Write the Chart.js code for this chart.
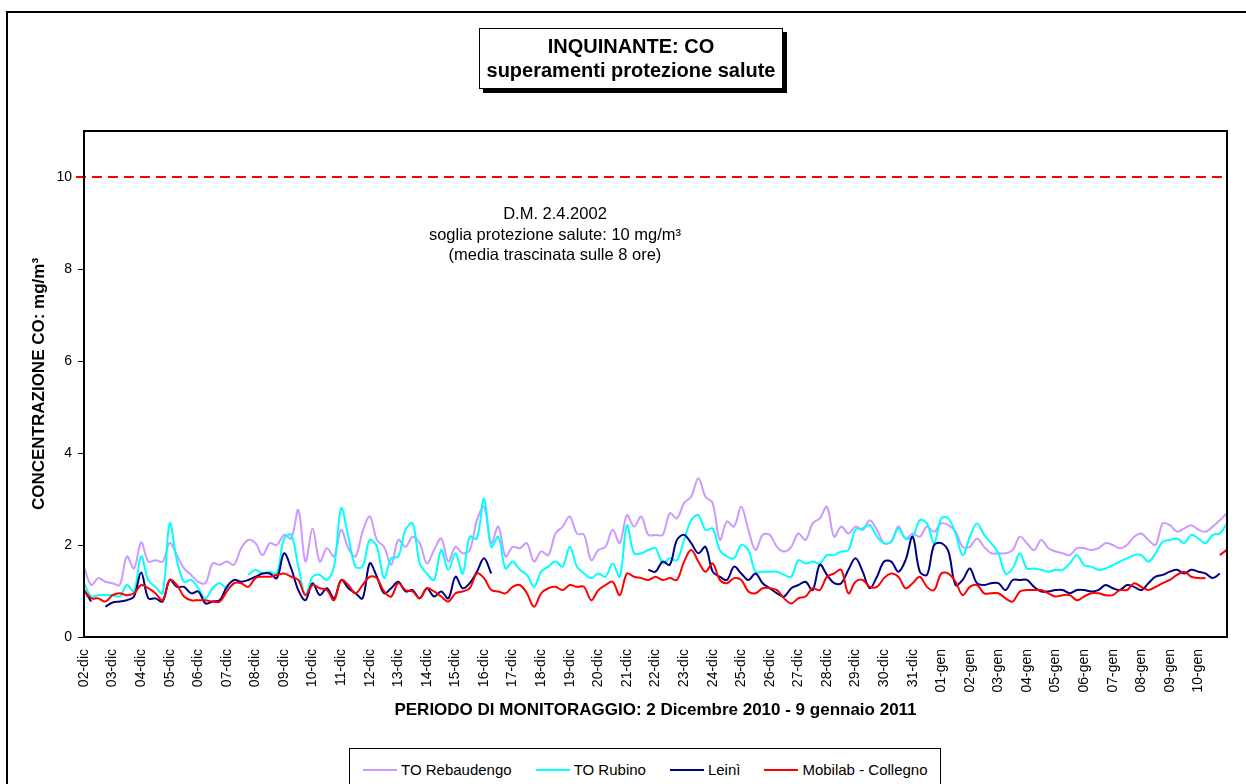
<!DOCTYPE html>
<html>
<head>
<meta charset="utf-8">
<script src="https://cdn.jsdelivr.net/npm/chart.js@4/dist/chart.umd.min.js"></script>
<style>
  html, body { margin:0; padding:0; background:#fff; }
  body { width:1246px; height:784px; overflow:hidden; position:relative; font-family:"Liberation Sans", Arial, sans-serif; }
  #frame { position:absolute; left:6px; top:11px; width:1300px; height:900px; border:2px solid #000; }
  #c { position:absolute; left:0; top:0; }
  #title { position:absolute; left:479px; top:28px; width:304px; height:61px; box-sizing:border-box; border:1px solid #000; background:#fff;
           box-shadow:4px 4px 0 #000; text-align:center; font-weight:bold; font-size:20px; line-height:24px; padding-top:5px; color:#000; }
  #note { position:absolute; left:555px; top:203px; transform:translateX(-50%); text-align:center; font-size:16.5px; line-height:20.5px; color:#000; white-space:nowrap; }
  #legend { position:absolute; left:349px; top:748px; width:592px; height:60px; box-sizing:border-box; border:1px solid #000; background:#fff;
            display:flex; align-items:flex-start; padding:12px 0 0 13px; font-size:15px; line-height:18px; color:#000; white-space:nowrap; }
  .li { display:flex; align-items:center; margin-right:24px; }
  .sw { display:inline-block; width:34px; height:2px; margin-right:4px; }
</style>
</head>
<body>
<div id="frame"></div>
<canvas id="c" width="1246" height="784"></canvas>
<div id="title">INQUINANTE: CO<br>superamenti protezione salute</div>
<div id="note">D.M. 2.4.2002<br>soglia protezione salute: 10 mg/m³<br>(media trascinata sulle 8 ore)</div>
<div id="legend"></div>
<script>
// ---- data (one value every 6 hours, 2 Dec 2010 00:00 -> 11 Jan 2011 00:00) ----
const dayLabels = ['02-dic','03-dic','04-dic','05-dic','06-dic','07-dic','08-dic','09-dic','10-dic','11-dic',
  '12-dic','13-dic','14-dic','15-dic','16-dic','17-dic','18-dic','19-dic','20-dic','21-dic',
  '22-dic','23-dic','24-dic','25-dic','26-dic','27-dic','28-dic','29-dic','30-dic','31-dic',
  '01-gen','02-gen','03-gen','04-gen','05-gen','06-gen','07-gen','08-gen','09-gen','10-gen'];
const samplesPerDay = 4;
const seriesNames = ['TO Rebaudengo','TO Rubino','Leinì','Mobilab - Collegno'];
const seriesColors = ['#CC99FF','#00FFFF','#000080','#FF0000'];
const threshold = 10;
const yTicks = [0,2,4,6,8,10];

const toRebaudengo = [
  1.53,1.13,1.28,1.2,1.17,1.13,1.75,1.49,2.06,1.64,1.67,1.64,2.04,1.78,1.49,1.35,1.2,1.17,1.6,1.57,1.64,1.57,1.93,2.11,2.04,1.78,2.04,2.0,2.22,2.14,2.76,1.64,2.36,1.64,1.93,1.75,2.33,1.93,1.75,2.29,2.62,
  2.11,1.96,1.57,2.11,1.96,2.18,2.04,1.6,1.89,2.14,1.64,1.96,1.82,1.89,2.54,2.83,2.04,2.4,1.75,1.96,1.93,2.04,1.64,1.86,1.78,2.25,2.4,2.62,2.25,2.22,1.67,1.89,1.96,2.33,2.04,2.65,2.4,2.62,2.22,2.22,
  2.22,2.69,2.58,2.91,3.05,3.45,3.05,2.91,2.11,2.51,2.4,2.83,2.33,1.89,2.22,2.22,1.96,1.86,1.96,2.25,2.11,2.47,2.58,2.83,2.18,2.4,2.25,2.4,2.33,2.54,2.33,2.04,2.07,2.4,2.14,2.25,2.18,2.4,2.29,2.47,
  2.43,2.29,1.96,1.96,2.14,1.96,1.82,1.82,1.82,1.89,2.18,2.04,1.89,2.11,1.93,1.86,1.82,1.78,1.93,1.93,1.89,1.93,2.04,2.0,1.93,2.0,2.18,2.25,2.11,2.0,2.47,2.43,2.29,2.36,2.43,2.33,2.29,2.4,2.54,2.69];
const toRubino = [
  1.17,0.88,0.91,0.91,0.91,0.88,1.13,0.99,1.75,1.24,1.09,0.95,2.47,1.67,1.2,1.24,1.06,0.84,1.06,1.17,1.06,1.15,null,1.35,1.46,1.38,1.42,1.38,2.14,2.22,1.53,0.91,1.31,1.35,1.24,1.53,2.8,2.18,1.53,1.53,2.11,
  1.96,1.28,1.71,1.75,2.33,2.47,1.6,1.38,1.24,1.89,1.46,1.82,1.38,2.18,2.14,3.01,1.96,2.18,1.49,1.64,1.46,1.35,1.09,1.42,1.53,1.64,1.53,1.96,1.53,1.38,1.28,1.38,1.31,1.6,1.31,2.43,1.82,1.82,1.89,1.93,
  1.6,1.71,1.67,2.11,2.54,2.65,2.33,2.36,1.89,1.75,1.71,2.0,1.89,1.42,1.42,1.42,1.42,1.35,1.31,1.67,1.6,1.64,1.6,1.78,1.78,1.86,1.89,2.33,2.36,2.43,2.18,2.04,2.07,2.36,2.14,2.18,2.54,2.47,2.04,2.58,
  2.58,2.25,1.78,2.18,2.47,2.22,2.04,1.82,1.38,1.49,1.82,1.49,1.49,1.46,1.42,1.46,1.46,1.6,1.78,1.56,1.53,1.46,1.49,1.56,1.64,1.71,1.78,1.78,1.64,1.82,2.07,2.11,2.14,2.04,2.22,2.14,2.04,2.22,2.25,2.47];
const leini = [
  1.02,0.77,null,0.66,0.75,0.77,0.8,0.88,1.4,0.84,0.84,0.77,1.24,1.09,1.09,0.95,0.99,0.73,0.77,0.8,1.09,1.24,1.2,1.24,1.31,1.38,1.38,1.28,1.82,1.49,1.02,0.8,1.17,0.91,1.06,0.84,1.24,1.06,0.95,0.84,1.6,
  1.31,0.95,1.06,1.2,0.99,1.02,0.84,1.06,0.88,0.99,0.84,1.31,1.06,1.17,1.42,1.71,1.38,null,null,null,null,null,null,null,null,null,null,null,null,null,null,null,null,null,null,null,null,null,1.46,
  1.42,1.64,1.57,2.11,2.22,2.04,1.82,1.96,1.42,1.31,1.24,1.53,1.38,1.24,1.38,1.17,1.06,0.95,0.88,1.06,1.13,1.2,1.02,1.57,1.35,1.17,1.17,1.46,1.71,1.42,1.06,1.31,1.64,1.64,1.42,1.67,2.18,1.42,1.35,2.0,
  2.04,1.86,1.13,1.24,1.49,1.17,1.13,1.17,1.17,1.02,1.24,1.24,1.24,1.09,0.99,0.99,1.02,1.02,0.95,1.02,1.02,0.99,1.02,1.13,1.06,1.02,1.13,1.09,1.02,1.17,1.31,1.35,1.42,1.46,1.38,1.46,1.42,1.38,1.28,1.38];
const mobilabCollegno = [
  1.02,0.84,0.84,0.77,0.91,0.95,0.91,0.95,1.13,1.06,0.95,0.8,1.24,1.13,0.88,0.8,0.8,0.8,0.77,0.77,0.99,1.17,1.17,1.09,1.28,1.31,1.31,1.35,1.38,1.31,1.24,0.91,1.13,1.06,1.02,0.8,1.24,1.13,0.95,1.13,1.31,
  1.28,0.99,0.88,1.17,1.02,0.99,0.84,1.06,0.99,0.88,0.77,0.95,0.99,1.06,1.38,1.28,1.02,0.99,0.95,1.09,1.13,0.95,0.66,0.95,1.06,1.09,1.02,1.13,1.09,1.09,0.8,1.02,1.13,1.2,0.91,1.38,1.31,1.28,1.24,1.31,
  1.24,1.28,1.24,1.64,1.89,1.64,1.42,1.6,1.24,1.17,1.28,1.24,0.99,0.95,1.06,1.06,1.02,0.84,0.73,0.84,0.88,1.06,1.02,1.31,1.38,1.46,0.95,1.2,1.24,1.09,1.09,1.28,1.38,1.31,1.06,1.17,1.31,1.09,1.02,1.38,
  1.38,1.2,0.91,1.09,1.13,0.95,0.95,0.95,0.84,0.77,0.99,1.02,1.02,1.02,0.95,0.88,0.91,0.91,0.8,0.88,0.95,0.95,0.91,0.91,1.02,1.02,1.17,1.09,1.02,1.09,1.17,1.24,1.35,1.42,1.31,1.28,1.28,null,1.78,1.9];

const seriesData = [toRebaudengo, toRubino, leini, mobilabCollegno];
const nSamples = toRebaudengo.length;
const sampleLabels = [];
for (let i = 0; i < nSamples; i++) {
  sampleLabels.push(i % samplesPerDay === 0 && dayLabels[i / samplesPerDay] ? dayLabels[i / samplesPerDay] : '');
}

// legend (HTML)
const lg = document.getElementById('legend');
seriesNames.forEach((n, i) => {
  const d = document.createElement('span'); d.className = 'li';
  d.innerHTML = '<span class="sw" style="background:' + seriesColors[i] + '"></span>' + n;
  lg.appendChild(d);
});

const FONT = '"Liberation Sans", Arial, sans-serif';
Chart.defaults.font.family = FONT;
Chart.defaults.color = '#000';

const decor = {
  id: 'decor',
  afterDraw(chart) {
    const {ctx, chartArea: a, scales: {y}} = chart;
    ctx.save();
    const ty = y.getPixelForValue(threshold);
    ctx.strokeStyle = '#FF0000';
    ctx.lineWidth = 2;
    ctx.setLineDash([10, 6]);
    ctx.beginPath();
    ctx.moveTo(a.left - 8, ty);
    ctx.lineTo(a.right, ty);
    ctx.stroke();
    ctx.setLineDash([]);
    ctx.strokeStyle = '#000';
    ctx.lineWidth = 2;
    ctx.strokeRect(a.left, a.top, a.right - a.left, a.bottom - a.top);
    ctx.restore();
  }
};

new Chart(document.getElementById('c'), {
  type: 'line',
  data: {
    labels: sampleLabels,
    datasets: seriesData.map((d, i) => ({
      label: seriesNames[i],
      data: d,
      borderColor: seriesColors[i],
      backgroundColor: seriesColors[i],
      borderWidth: 2,
      pointRadius: 0,
      tension: 0.35,
      spanGaps: false,
      order: 4 - i
    }))
  },
  options: {
    responsive: false,
    animation: false,
    devicePixelRatio: 1,
    layout: { padding: { left: 0, top: 131, right: 19, bottom: 0 } },
    plugins: { legend: { display: false }, tooltip: { enabled: false }, title: { display: false } },
    scales: {
      x: {
        type: 'category',
        offset: false,
        afterFit(s) { s.height = 147; },
        grid: { display: true, drawOnChartArea: false, drawTicks: false },
        border: { display: true, color: '#000', width: 2 },
        ticks: {
          autoSkip: false, maxRotation: 90, minRotation: 90, padding: 12,
          font: { size: 14, family: FONT }, color: '#000',
          callback: function(v, idx) { return (idx % samplesPerDay === 0 && dayLabels[idx / samplesPerDay]) ? dayLabels[idx / samplesPerDay] : null; }
        },
        title: {
          display: true, text: 'PERIODO DI MONITORAGGIO: 2 Dicembre 2010 - 9 gennaio 2011',
          font: { size: 17, weight: 'bold', family: FONT }, color: '#000',
          padding: { top: 0, bottom: 63 }
        }
      },
      y: {
        min: 0, max: 11,
        afterFit(s) { s.width = 84; },
        afterBuildTicks(s) { s.ticks = yTicks.map(v => ({ value: v })); },
        grid: { display: true, drawOnChartArea: false, drawTicks: true, tickLength: 6, tickColor: '#000', tickWidth: 1 },
        border: { display: true, color: '#000', width: 2 },
        ticks: { padding: 6, font: { size: 14, family: FONT }, color: '#000' },
        title: {
          display: true, text: 'CONCENTRAZIONE CO: mg/m³',
          font: { size: 17, weight: 'bold', family: FONT }, color: '#000',
          padding: { top: 29, bottom: 0 }
        }
      }
    }
  },
  plugins: [decor]
});
</script>
</body>
</html>
